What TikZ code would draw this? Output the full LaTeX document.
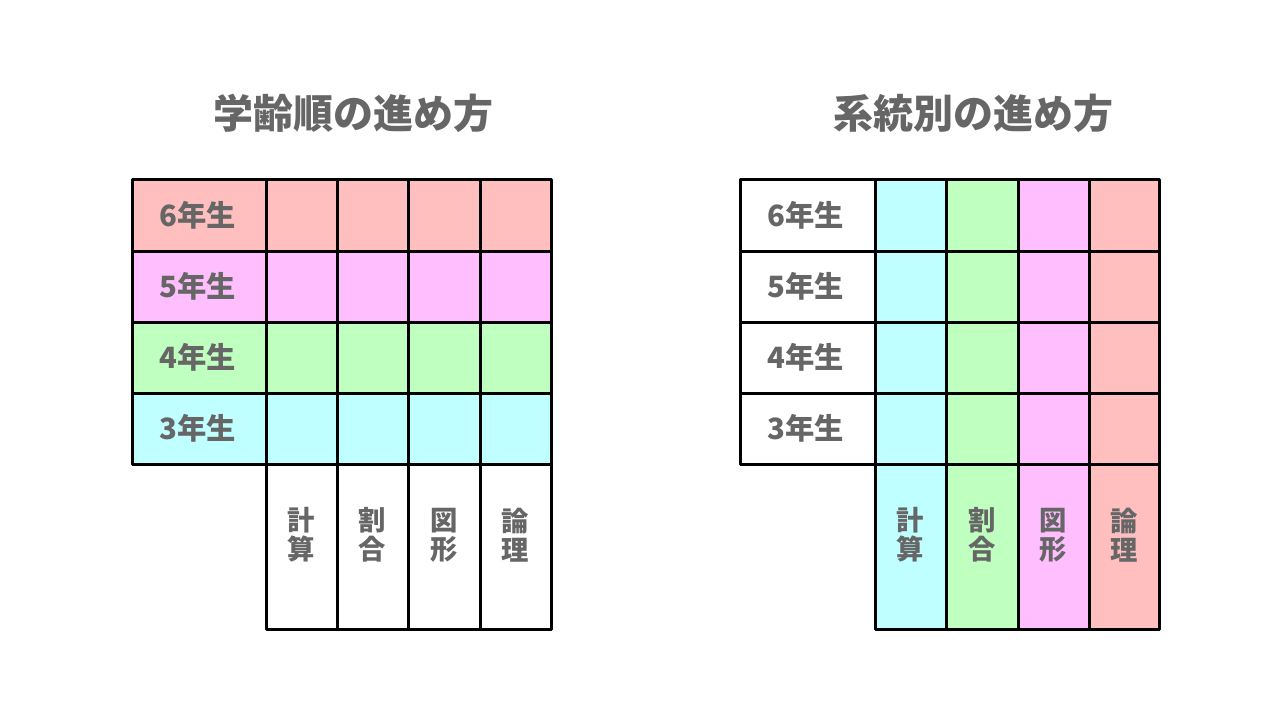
\documentclass[tikz,border=0pt]{standalone}
\usepackage{fontspec}
\setmainfont{Noto Sans CJK JP}[BoldFont={Noto Sans CJK JP Black}]
\definecolor{cpink}{HTML}{FFBFBF}
\definecolor{cmag}{HTML}{FFBFFF}
\definecolor{cgreen}{HTML}{BFFFBF}
\definecolor{ccyan}{HTML}{BFFFFF}
\definecolor{tgray}{HTML}{666666}
\tikzset{
  cell/.style={draw=black, line width=2.25pt, line join=round},
  lbl/.style={text=tgray, font=\bfseries\fontsize{22}{24}\selectfont, inner sep=0pt},
  vlbl/.style={text=tgray, font=\bfseries\fontsize{20.5}{21.7}\selectfont, inner sep=0pt, align=center},
  ttl/.style={text=tgray, font=\bfseries\fontsize{30}{32}\selectfont, inner sep=0pt},
}
\begin{document}
\begin{tikzpicture}[x=0.75pt,y=-0.75pt]
\useasboundingbox (0,0) rectangle (1280,720);
% titles
\node[ttl] (t1) at (353,113) {学齢順の進め方};
\node[ttl] (t2) at (973,113) {系統別の進め方};
% ---------- left grid ----------
\foreach \y/\c/\g [count=\i] in {180/cpink/6, 251/cmag/5, 322/cgreen/4, 393/ccyan/3}{
  \pgfmathsetmacro{\yb}{\y+71}
  \foreach \xa/\xb in {132/266, 266/337, 337/408, 408/480, 480/551}{
    \filldraw[cell, fill=\c] (\xa,\y) rectangle (\xb,\yb);
  }
  \node[lbl] (L\i) at (198,{\y+35.5}) {\g 年生};
}
% bottom label columns (left)
\foreach \xa/\xb/\t [count=\j] in {266/337/計\\算, 337/408/割\\合, 408/480/図\\形, 480/551/論\\理}{
  \draw[cell, fill=white] (\xa,464) rectangle (\xb,629);
  \node[vlbl] (LC\j) at ({(\xa+\xb)/2},535) {\t};
}
% ---------- right grid ----------
\foreach \y/\g [count=\i] in {180/6, 251/5, 322/4, 393/3}{
  \pgfmathsetmacro{\yb}{\y+71}
  \filldraw[cell, fill=white] (740,\y) rectangle (875,\yb);
  \foreach \xa/\xb/\c in {875/946/ccyan, 946/1018/cgreen, 1018/1089/cmag, 1089/1159/cpink}{
    \filldraw[cell, fill=\c] (\xa,\y) rectangle (\xb,\yb);
  }
  \node[lbl] (R\i) at (806,{\y+35.5}) {\g 年生};
}
\foreach \xa/\xb/\c/\t [count=\j] in {875/946/ccyan/計\\算, 946/1018/cgreen/割\\合, 1018/1089/cmag/図\\形, 1089/1159/cpink/論\\理}{
  \filldraw[cell, fill=\c] (\xa,464) rectangle (\xb,629);
  \node[vlbl] (RC\j) at ({(\xa+\xb)/2},535) {\t};
}
\end{tikzpicture}
\end{document}
